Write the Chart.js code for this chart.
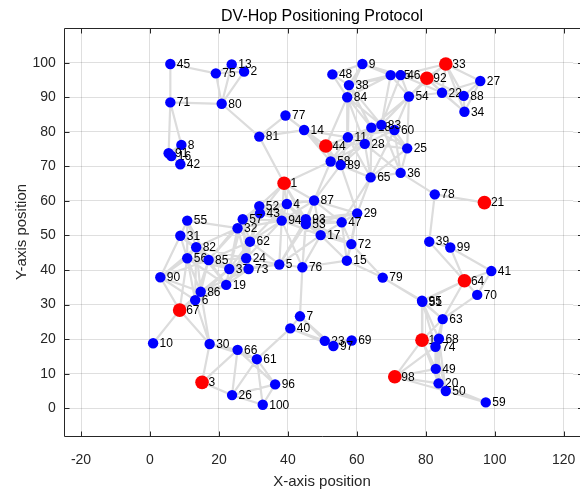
<!DOCTYPE html>
<html>
<head>
<meta charset="utf-8">
<script src="https://cdn.jsdelivr.net/npm/chart.js@4.4.1/dist/chart.umd.min.js"></script>
<style>
  html, body { margin: 0; padding: 0; overflow: hidden; background: #fff; }
  #wrap { position: relative; width: 580px; height: 490px; }
</style>
</head>
<body>
<div id="wrap"><canvas id="net" width="580" height="490"></canvas></div>
<script>
// Sensor node positions (node id = index + 1)
const nodeX = [38.9, 27.3, 15.1, 39.7, 37.5, 13.1, 43.5, 9.1, 61.6, 0.9,
  57.4, 78.9, 23.7, 44.7, 57.1, 6.2, 49.5, 64.2, 22.1, 83.7,
  97.0, 84.7, 50.7, 27.9, 74.6, 23.8, 95.8, 62.3, 60.1, 17.3,
  8.8, 25.4, 85.8, 91.2, 69.8, 72.7, 23.0, 57.7, 81.0, 40.7,
  99.0, 8.8, 31.9, 51.0, 5.9, 72.7, 55.6, 52.9, 82.9, 85.8,
  79.0, 31.7, 45.2, 75.1, 10.8, 10.8, 26.9, 52.4, 97.4, 70.9,
  31.0, 29.0, 84.9, 91.2, 64.0, 25.4, 8.6, 83.8, 58.5, 94.9,
  5.9, 58.4, 28.6, 82.8, 19.1, 44.2, 39.3, 82.6, 67.5, 20.8,
  31.7, 13.4, 67.1, 57.2, 17.0, 14.7, 47.6, 91.0, 55.3, 3.0,
  5.4, 80.3, 45.2, 38.2, 78.9, 36.3, 53.2, 71.0, 87.1, 32.7];
const nodeY = [65.1, 97.4, 7.5, 59.1, 41.6, 31.3, 26.6, 76.2, 99.6, 18.8,
  78.4, 19.7, 99.5, 80.5, 42.7, 73.0, 50.1, 81.2, 35.7, 7.2,
  59.5, 91.3, 19.5, 43.4, 75.2, 3.8, 94.7, 76.5, 56.4, 18.6,
  49.9, 52.1, 99.6, 85.8, 96.4, 68.1, 40.3, 93.5, 48.2, 23.1,
  39.7, 70.6, 56.4, 75.9, 99.6, 96.4, 53.8, 96.6, 11.4, 5.0,
  30.8, 58.5, 53.3, 90.2, 54.3, 43.4, 54.7, 71.4, 1.7, 80.5,
  14.2, 48.2, 25.8, 36.9, 66.8, 16.9, 28.4, 20.1, 19.6, 32.8,
  88.5, 47.5, 40.3, 17.8, 96.9, 40.8, 84.7, 61.9, 37.8, 88.1,
  78.6, 46.6, 82.0, 90.0, 42.9, 33.7, 60.1, 90.4, 70.4, 37.9,
  73.8, 95.5, 54.7, 54.3, 31.1, 6.9, 18.0, 9.1, 46.5, 1.0];
// Beacon (anchor) nodes with known positions
const anchorIds = [1, 3, 12, 21, 33, 44, 64, 67, 92, 98];
// Radio range used to link neighbouring nodes
const commRange = 15.5;

const xTicks = [-20, 0, 20, 40, 60, 80, 100, 120];
const yTicks = [0, 10, 20, 30, 40, 50, 60, 70, 80, 90, 100];
const xRange = [-25, 122.75];
const yRange = [-8, 110];

const FONT = '"Liberation Sans", Arial, Helvetica, sans-serif';
const AXIS_INK = '#262626';
const GRID_INK = 'rgba(38,38,38,0.15)';

// One-hop links between every pair of nodes within radio range
const linkPoints = [];
for (let i = 0; i < nodeX.length; i++) {
  for (let j = i + 1; j < nodeX.length; j++) {
    const d = Math.hypot(nodeX[i] - nodeX[j], nodeY[i] - nodeY[j]);
    if (d <= commRange) {
      linkPoints.push({ x: nodeX[i], y: nodeY[i] });
      linkPoints.push({ x: nodeX[j], y: nodeY[j] });
      linkPoints.push({ x: nodeX[j], y: null });
    }
  }
}

const datasets = [{
  label: 'links',
  data: linkPoints,
  showLine: true,
  spanGaps: false,
  borderColor: '#dcdcdc',
  borderWidth: 2.2,
  pointRadius: 0,
  order: 1000
}];

// Each node is its own dataset so nodes and their ids stack in id order
nodeX.forEach((x, i) => {
  const isAnchor = anchorIds.includes(i + 1);
  const col = isAnchor ? '#ff0000' : '#0000ff';
  datasets.push({
    label: 'node ' + (i + 1),
    nodeIndex: i,
    data: [{ x: x, y: nodeY[i] }],
    pointRadius: isAnchor ? 6.8 : 5.2,
    pointBackgroundColor: col,
    pointBorderColor: col,
    pointBorderWidth: 0,
    order: -(i + 1)
  });
});

const nodeLabels = {
  id: 'nodeLabels',
  afterDatasetDraw(chart, args) {
    const ds = chart.data.datasets[args.index];
    if (ds.nodeIndex === undefined) return;
    const el = args.meta.data[0];
    const ctx = chart.ctx;
    ctx.save();
    ctx.fillStyle = '#000';
    ctx.font = '12px ' + FONT;
    ctx.textAlign = 'left';
    ctx.textBaseline = 'middle';
    ctx.fillText(String(ds.nodeIndex + 1), el.x + 6.5, el.y + 0.5);
    ctx.restore();
  }
};

const axesBox = {
  id: 'axesBox',
  beforeDatasetsDraw(chart) {
    const { ctx, chartArea: a, scales } = chart;
    const L = Math.round(a.left) + 0.5, T = Math.round(a.top) + 0.5;
    const B = Math.round(a.bottom) + 0.5;
    const W = chart.width;
    ctx.save();
    // horizontal grid lines continue to the canvas edge
    ctx.strokeStyle = GRID_INK;
    ctx.lineWidth = 1;
    ctx.beginPath();
    yTicks.forEach(v => {
      const py = Math.round(scales.y.getPixelForValue(v)) + 0.5;
      ctx.moveTo(a.right, py); ctx.lineTo(W, py);
    });
    ctx.stroke();
    // left, bottom and top edges of the box (right edge lies past the canvas border)
    ctx.strokeStyle = AXIS_INK;
    ctx.beginPath();
    ctx.moveTo(W, T); ctx.lineTo(L, T); ctx.lineTo(L, B); ctx.lineTo(W, B);
    ctx.stroke();
    const tl = 5;
    ctx.beginPath();
    xTicks.forEach(v => {
      const px = Math.round(scales.x.getPixelForValue(v)) + 0.5;
      ctx.moveTo(px, B); ctx.lineTo(px, B - tl);
      ctx.moveTo(px, T); ctx.lineTo(px, T + tl);
    });
    yTicks.forEach(v => {
      const py = Math.round(scales.y.getPixelForValue(v)) + 0.5;
      ctx.moveTo(L, py); ctx.lineTo(L + tl, py);
      ctx.moveTo(W + 3, py); ctx.lineTo(W + 3 - tl, py);
    });
    ctx.stroke();
    ctx.restore();
  },
  afterDraw(chart) {
    const { ctx, chartArea: a } = chart;
    const cx = 322;
    const cy = (a.top + a.bottom) / 2;
    ctx.save();
    ctx.textAlign = 'center';
    ctx.textBaseline = 'middle';
    ctx.fillStyle = '#000';
    ctx.font = '16px ' + FONT;
    ctx.fillText('DV-Hop Positioning Protocol', cx, 17);
    ctx.fillStyle = AXIS_INK;
    ctx.font = '15px ' + FONT;
    ctx.fillText('X-axis position', cx, 482);
    ctx.translate(22, cy);
    ctx.rotate(-Math.PI / 2);
    ctx.fillText('Y-axis position', 0, 0);
    ctx.restore();
  }
};

function noLabelPadding(s) {
  s.paddingLeft = 0; s.paddingRight = 0; s.paddingTop = 0; s.paddingBottom = 0;
}

new Chart(document.getElementById('net'), {
  type: 'scatter',
  data: { datasets },
  options: {
    responsive: false,
    animation: false,
    events: [],
    layout: { padding: { top: 28.1, left: 0, right: 0, bottom: 0 } },
    plugins: { legend: { display: false }, tooltip: { enabled: false }, title: { display: false } },
    scales: {
      x: {
        type: 'linear',
        min: xRange[0], max: xRange[1],
        afterBuildTicks: s => { s.ticks = xTicks.map(v => ({ value: v })); },
        afterFit: s => { s.height = 490 - 435.9; noLabelPadding(s); },
        grid: { color: GRID_INK, lineWidth: 1, drawTicks: false },
        border: { display: false },
        ticks: { color: AXIS_INK, font: { family: FONT, size: 14 }, padding: 16,
          maxRotation: 0, autoSkip: false }
      },
      y: {
        type: 'linear',
        min: yRange[0], max: yRange[1],
        afterBuildTicks: s => { s.ticks = yTicks.map(v => ({ value: v })); },
        afterFit: s => { s.width = 63.8; noLabelPadding(s); },
        grid: { color: GRID_INK, lineWidth: 1, drawTicks: false },
        border: { display: false },
        ticks: { color: AXIS_INK, font: { family: FONT, size: 14 }, padding: 8, autoSkip: false }
      }
    }
  },
  plugins: [axesBox, nodeLabels]
});
</script>
</body>
</html>
